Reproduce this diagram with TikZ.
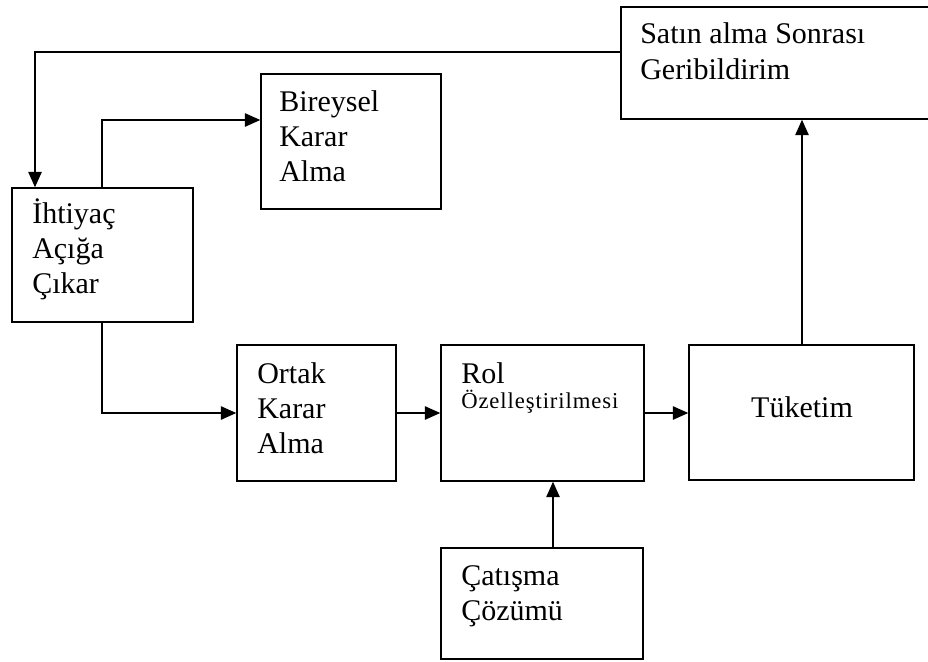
\documentclass[tikz,border=0pt]{standalone}
\usepackage{fontspec}
\setmainfont{Liberation Serif}
\usetikzlibrary{arrows.meta}
\begin{document}
\begin{tikzpicture}[x=0.75pt,y=-0.75pt,
  box/.style 2 args={draw, line width=1.1pt, inner sep=0pt, rectangle,
    minimum width={#1*0.75pt}, minimum height={#2*0.75pt}},
  arr/.style={-{Triangle[length=11.5pt,width=10pt]}, line width=1.1pt},
  txt/.style={inner sep=0pt, anchor=base west, align=left,
    font=\fontsize{22.5}{26.25}\selectfont},
  small/.style={inner sep=0pt, anchor=base west,
    font=\fontsize{17}{20}\selectfont\addfontfeature{LetterSpace=4}}]
\useasboundingbox (0,0) rectangle (928,661);
\clip (0,0) rectangle (928,661);
% boxes
\node[box={319}{112}] (sat) at (780.5,63) {};
\node[box={180}{135}] (bir) at (351,141.5) {};
\node[box={181}{134}] (iht) at (102.5,255) {};
\node[box={159}{136}] (ort) at (316.5,413) {};
\node[box={203}{136}] (rol) at (542.5,413) {};
\node[box={225}{135}] (tuk) at (801.5,412.5) {};
\node[box={202}{111}] (cat) at (542,603.5) {};
% texts (anchor at baseline of the last line)
\node[txt, font=\fontsize{22.5}{27}\selectfont] (tsat) at (640,79) {Satın alma Sonrası\\Geribildirim};
\node[txt] (tbir) at (279,181) {Bireysel\\Karar\\Alma};
\node[txt] (tiht) at (32,293) {İhtiyaç\\Açığa\\Çıkar};
\node[txt] (tort) at (257,453) {Ortak\\Karar\\Alma};
\node[txt] (trol) at (461,383) {Rol};
\node[small] (trol2) at (461,408) {Özelleştirilmesi};
\node[txt, anchor=base] (ttuk) at (802,417) {Tüketim};
\node[txt] (tcat) at (461,620) {Çatışma\\Çözümü};
% connectors
\draw[arr] (sat.west |- 0,52) -| (35,0 |- iht.north);
\draw[arr] (102,0 |- iht.north) |- (bir.west |- 0,120);
\draw[arr] (102,0 |- iht.south) |- (ort.west);
\draw[arr] (ort.east) -- (rol.west);
\draw[arr] (rol.east) -- (tuk.west |- rol.east);
\draw[arr] (802,0 |- tuk.north) -- (802,0 |- sat.south);
\draw[arr] (553,0 |- cat.north) -- (553,0 |- rol.south);
\end{tikzpicture}
\end{document}
